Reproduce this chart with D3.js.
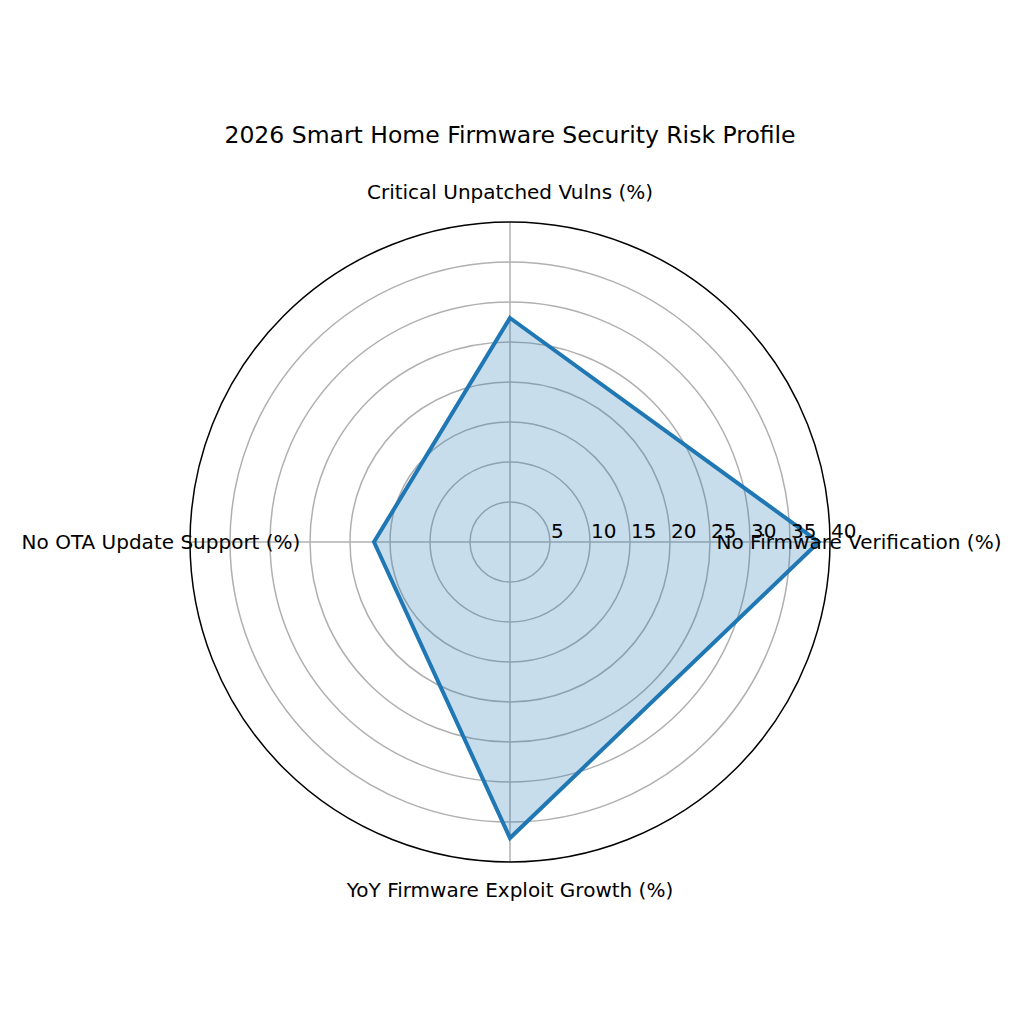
<!DOCTYPE html><html><head><script src="https://cdn.jsdelivr.net/npm/d3@7"></script>
<style>body{margin:0;background:#fff}text{font-family:"DejaVu Sans",sans-serif}</style></head><body>
<svg id="c" width="1024" height="1024"></svg>
<script>
const categories=["Critical Unpatched Vulns (%)","No Firmware Verification (%)","YoY Firmware Exploit Growth (%)","No OTA Update Support (%)"];
const values=[28,38.6,37,17];
const ticks=[5,10,15,20,25,30,35,40];
const svg=d3.select("#c");
const cx=510,cy=542,R=320;
const r=d3.scaleLinear().domain([0,40]).range([0,R]);
const ang=i=>i*2*Math.PI/categories.length;
const g=svg.append("g").attr("transform",`translate(${cx},${cy})`);
ticks.slice(0,-1).forEach(t=>g.append("circle").attr("r",r(t)).attr("fill","none").attr("stroke","#b0b0b0").attr("stroke-width",1.5));
categories.forEach((c,i)=>{const a=ang(i);g.append("line").attr("x2",R*Math.sin(a)).attr("y2",-R*Math.cos(a)).attr("stroke","#b0b0b0").attr("stroke-width",1.5);});
g.append("circle").attr("r",R).attr("fill","none").attr("stroke","#000").attr("stroke-width",1.5);
const line=d3.lineRadial().angle((d,i)=>ang(i)).radius(d=>r(d)).curve(d3.curveLinearClosed);
g.append("path").attr("d",line(values)).attr("fill","#1f77b4").attr("fill-opacity",0.25).attr("stroke","#1f77b4").attr("stroke-width",4).attr("stroke-linejoin","miter");
ticks.forEach(t=>g.append("text").attr("x",r(t)+1).attr("y",-4).attr("font-size",20).text(t));
const lp=[[0,-343,"middle"],[349,7,"middle"],[0,355,"middle"],[-349,7,"middle"]];
categories.forEach((c,i)=>g.append("text").attr("x",lp[i][0]).attr("y",lp[i][1]).attr("text-anchor",lp[i][2]).attr("font-size",20).text(c));
svg.append("text").attr("x",510).attr("y",143).attr("text-anchor","middle").attr("font-size",23.5).text("2026 Smart Home Firmware Security Risk Profile");
</script></body></html>
